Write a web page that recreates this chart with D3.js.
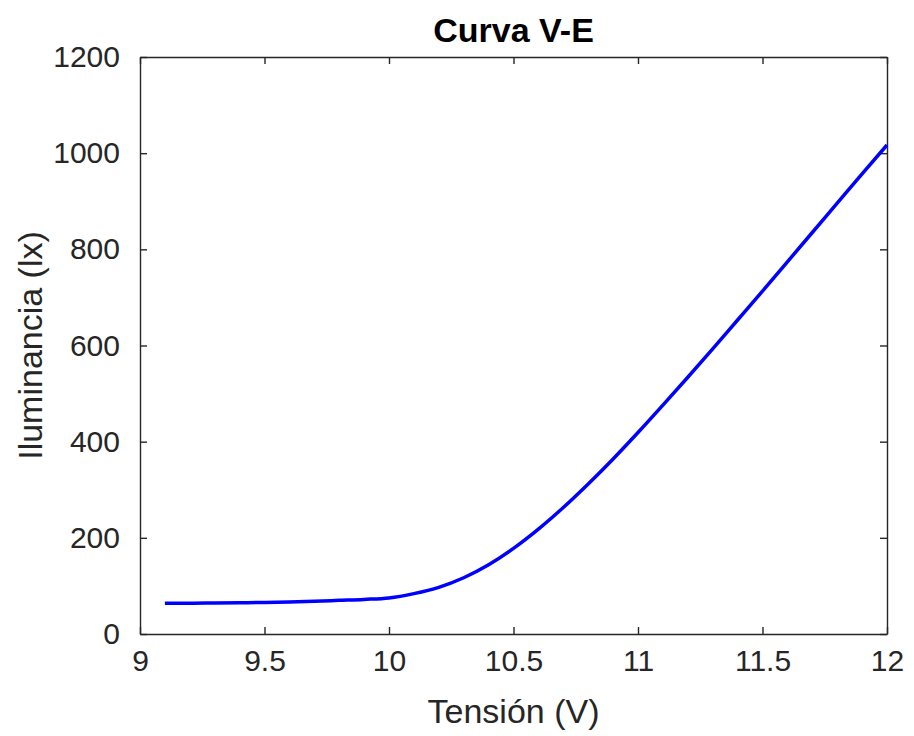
<!DOCTYPE html>
<html>
<head>
<meta charset="utf-8">
<script src="https://cdn.jsdelivr.net/npm/d3@7"></script>
<style>
html,body{margin:0;padding:0;background:#fff;}
svg{display:block;font-family:"Liberation Sans",Arial,Helvetica,sans-serif;}
</style>
</head>
<body>
<svg id="chart" width="914" height="736"></svg>
<script>
const tension = [9.1,9.2,9.3,9.4,9.5,9.6,9.7,9.8,9.9,10.0,10.1,10.2,10.3,10.4,10.5,10.6,10.7,10.8,10.9,11.0,11.1,11.2,11.3,11.4,11.5,11.6,11.7,11.8,11.9,12.0];
const iluminancia = [64,64,64.5,65,65.5,66.5,68,70,72,75,84,97,117,144,178,218,263,312,364,419,476,534,593,653,713,774,835,896,957,1017];
const xTicks = [9,9.5,10,10.5,11,11.5,12];
const yTicks = [0,200,400,600,800,1000,1200];
const titleText = "Curva V-E";
const xLabelText = "Tensión (V)";
const yLabelText = "Iluminancia (lx)";

const svg = d3.select("#chart");
const L = 140, R = 887, T = 57, B = 634;
const x = d3.scaleLinear().domain([9,12]).range([L,R]);
const y = d3.scaleLinear().domain([0,1200]).range([B,T]);
const axisColor = "#262626";
const tickLen = 7;

function styleAxis(g){
  g.selectAll("path.domain").attr("stroke",axisColor).attr("stroke-width",1.4);
  g.selectAll(".tick line").attr("stroke",axisColor).attr("stroke-width",1.4);
  g.selectAll(".tick text").attr("fill",axisColor).style("font-size","30px")
    .style("font-family","'Liberation Sans',Arial,sans-serif");
}

// bottom
const gx = svg.append("g").attr("transform",`translate(0,${B})`)
  .call(d3.axisBottom(x).tickValues(xTicks).tickSizeInner(-tickLen).tickSizeOuter(0).tickPadding(16).tickFormat(d3.format("")));
styleAxis(gx);
// top
const gt = svg.append("g").attr("transform",`translate(0,${T})`)
  .call(d3.axisTop(x).tickValues(xTicks).tickSizeInner(-tickLen).tickSizeOuter(0).tickFormat(""));
styleAxis(gt);
// left
const gy = svg.append("g").attr("transform",`translate(${L},0)`)
  .call(d3.axisLeft(y).tickValues(yTicks).tickSizeInner(-tickLen).tickSizeOuter(0).tickPadding(20).tickFormat(d3.format("")));
styleAxis(gy);
// right
const gr = svg.append("g").attr("transform",`translate(${R},0)`)
  .call(d3.axisRight(y).tickValues(yTicks).tickSizeInner(-tickLen).tickSizeOuter(0).tickFormat(""));
styleAxis(gr);

// line
const data = tension.map((v,i)=>({v, e: iluminancia[i]}));
svg.append("path").datum(data)
  .attr("fill","none").attr("stroke","#0000ff").attr("stroke-width",3.5)
  .attr("stroke-linejoin","round").attr("stroke-linecap","butt")
  .attr("d", d3.line().x(d=>x(d.v)).y(d=>y(d.e)).curve(d3.curveMonotoneX));

// title
svg.append("text").attr("x",(L+R)/2).attr("y",42).attr("text-anchor","middle")
  .style("font-size","34px").style("font-weight","bold").attr("fill","#000")
  .text(titleText);
// x label
svg.append("text").attr("x",(L+R)/2).attr("y",723).attr("text-anchor","middle")
  .style("font-size","34px").attr("fill",axisColor).text(xLabelText);
// y label
svg.append("text").attr("transform",`translate(42,${(T+B)/2}) rotate(-90)`).attr("text-anchor","middle")
  .style("font-size","34px").attr("fill",axisColor).text(yLabelText);
</script>
</body>
</html>
